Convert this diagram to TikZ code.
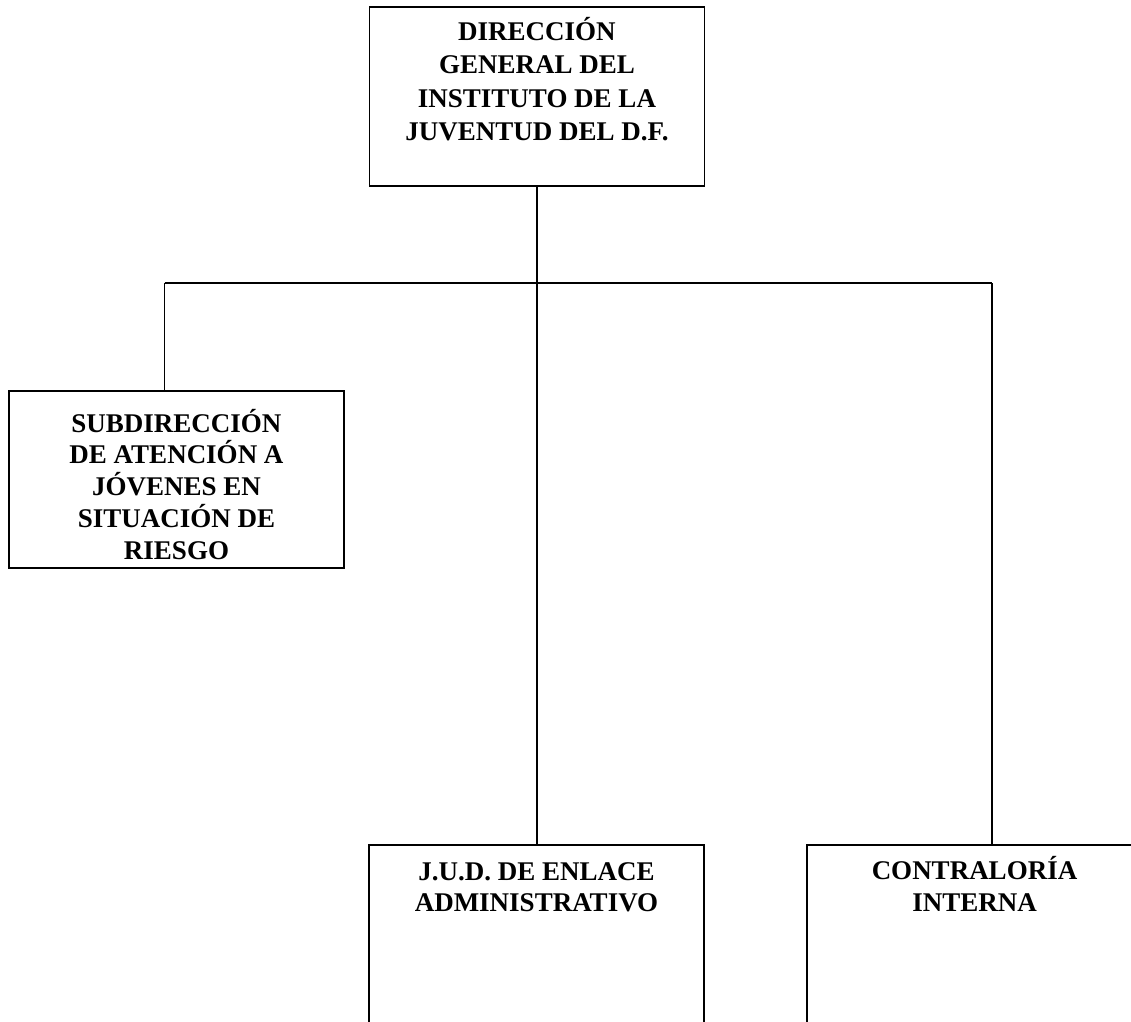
\documentclass[tikz,border=0pt]{standalone}
\usepackage{fontspec}
\setmainfont{Liberation Serif}
\usepackage{tikz}
\tikzstyle{orgchart}=[x=1pt, y=-1pt, line width=1.4pt, font=\bfseries]
\tikzstyle{unit}=[rectangle, draw, inner sep=0pt]
\tikzstyle{link}=[-]
\newcommand{\unitW}{335pt}
\newcommand{\busY}{283}
% height, line skip, first baseline, text
\newcommand{\unittext}[4]{\parbox[c][#1][t]{\unitW}{\centering\fontsize{27}{#2}\selectfont\rule{0pt}{#3}#4}}

\begin{document}
\begin{tikzpicture}[orgchart]
	\useasboundingbox (0,0) rectangle (1131,1021);
	\clip (0,0) rectangle (1131,1021);
	
	\draw (537,96.5) node[unit] (dg) {\unittext{179pt}{33.5pt}{33pt}{DIRECCIÓN\\GENERAL DEL\\INSTITUTO DE LA\\JUVENTUD DEL D.F.}};
	%%
	\draw (176.5,479.5) node[unit] (sub) {\unittext{177pt}{31.75pt}{41pt}{SUBDIRECCIÓN\\DE ATENCIÓN A\\JÓVENES EN\\SITUACIÓN DE\\RIESGO}};
	\draw (536.5,955) node[unit] (jud) {\unittext{220pt}{31pt}{35pt}{J.U.D. DE ENLACE\\ADMINISTRATIVO}};
	\draw (974.5,955) node[unit] (con) {\unittext{220pt}{32pt}{34pt}{CONTRALORÍA\\INTERNA}};
	%%
	\coordinate (busL) at (164.5,\busY);
	\coordinate (busR) at (992,\busY);
	\draw[link] (busL) -- (busR);
	\draw[link] (dg.south) -- (dg.south |- jud.north);
	\draw[link] (busL) -- (busL |- sub.north);
	\draw[link] (busR) -- (busR |- con.north);
\end{tikzpicture}
\end{document}
